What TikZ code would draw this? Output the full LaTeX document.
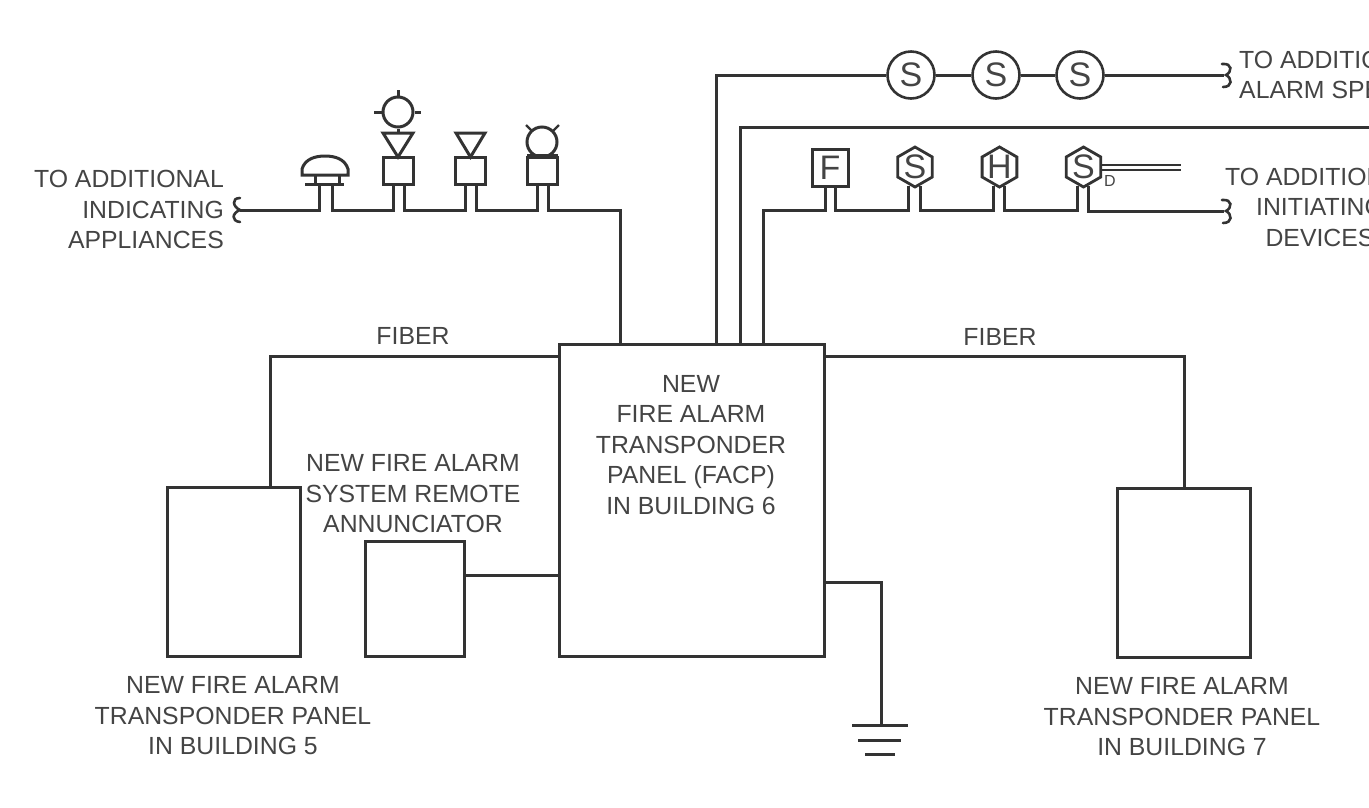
\documentclass[tikz,border=0pt]{standalone}
\usepackage{fontspec}
\setmainfont{Liberation Sans}
\usetikzlibrary{shapes.geometric}
\definecolor{ink}{HTML}{333333}
\definecolor{txt}{HTML}{444444}
\tikzset{
  wire/.style={draw=ink,line width=3pt,line join=miter},
  thin wire/.style={draw=ink,line width=2.6pt},
  box/.style={draw=ink,line width=3pt,rectangle,inner sep=0pt,fill=white},
  lbl/.style={text=txt,inner sep=0pt,align=center,font=\fontsize{24.8}{30.5}\selectfont},
  letter/.style={text=txt,inner sep=0pt,font=\fontsize{34}{34}\selectfont},
  speaker/.style={draw=ink,line width=2.6pt,circle,minimum size=47pt,inner sep=0pt,letter},
  hex/.style={draw=ink,line width=2.8pt,regular polygon,regular polygon sides=6,regular polygon rotate=30,minimum size=40pt,inner sep=0pt,letter},
  dev/.style={box,minimum width=30pt,minimum height=27pt},
}
\newcommand{\brk}[2]{\draw[thin wire,line cap=round] (#1-4,#2-11) .. controls (#1+7,#2-12) and (#1+6,#2-3) .. (#1,#2) .. controls (#1+6,#2+3) and (#1+7,#2+12) .. (#1-3,#2+12);}
\newcommand{\brkl}[2]{\draw[thin wire,line cap=round] (#1+1,#2-12) .. controls (#1-8,#2-12) and (#1-6,#2-3) .. (#1+1,#2) .. controls (#1-7,#2+3) and (#1-8,#2+11) .. (#1+1,#2+12);}
\begin{document}
\begin{tikzpicture}[x=1pt,y=-1pt]
\useasboundingbox (0,0) rectangle (1369,807);
\clip (0,0) rectangle (1369,807);
% panels
\node[box,minimum width=265pt,minimum height=312pt] (facp) at (691.5,500) {};
\node[box,minimum width=133pt,minimum height=169pt] (b5) at (233.5,571.5) {};
\node[box,minimum width=99pt,minimum height=115pt] (ann) at (414.5,598.5) {};
\node[box,minimum width=133pt,minimum height=169pt] (b7) at (1183.5,572.5) {};
% panel texts
\node[lbl] (t6) at (691,445) {NEW\\FIRE ALARM\\TRANSPONDER\\PANEL (FACP)\\IN BUILDING 6};
\node[lbl] (t5) at (233,716) {NEW FIRE ALARM\\TRANSPONDER PANEL\\IN BUILDING 5};
\node[lbl] (t7) at (1182,717) {NEW FIRE ALARM\\TRANSPONDER PANEL\\IN BUILDING 7};
\node[lbl] (ta) at (413,494) {NEW FIRE ALARM\\SYSTEM REMOTE\\ANNUNCIATOR};
\node[lbl] (f1) at (413,336) {FIBER};
\node[lbl] (f2) at (1000,337) {FIBER};
\node[lbl,align=right,anchor=east] (tl) at (224,209.5) {TO ADDITIONAL\\INDICATING\\APPLIANCES};
\node[lbl,align=left,anchor=west] (tr1) at (1239,75) {TO ADDITIONAL\\ALARM SPEAKERS};
\node[lbl] (tr2) at (1320,207) {TO ADDITIONAL\\INITIATING\\DEVICES};
% connections to the panels
\coordinate (fl) at (559,356);
\coordinate (fr) at (824,356);
\draw[wire] (fl) -| (b5.north -| 270,0);
\draw[wire] (fr) -| (b7.north -| 1184,0);
\draw[wire] (ann.east |- 0,575) -- (facp.west |- 0,575);
% ground
\coordinate (gs) at (824,582);
\coordinate (g1) at (881,725);
\draw[wire] (gs) -| (g1);
\draw[wire] (852,725) -- (908,725);
\draw[wire] (858,740) -- (901,740);
\draw[wire] (865,754) -- (895,754);
% speakers
\node[speaker] (s1) at (911,75) {S};
\node[speaker] (s2) at (996,75) {S};
\node[speaker] (s3) at (1080,75) {S};
\coordinate (p1) at (716,344);
\coordinate (b1) at (1224,75);
\draw[wire] (p1) |- (s1.west);
\draw[wire] (s1) -- (s2);
\draw[wire] (s2) -- (s3);
\draw[wire] (s3) -- (b1);
\brk{1226}{75}
% middle line
\coordinate (p2) at (740,344);
\coordinate (e2) at (1369,127);
\draw[wire] (p2) |- (e2);
% initiating devices
\node[box,minimum width=36pt,minimum height=37pt,letter] (F) at (830,167.5) {F};
\node[hex] (h1) at (915,167) {S};
\node[hex] (h2) at (999.5,167) {H};
\node[hex] (h3) at (1083.5,167) {S};
\node[text=txt,inner sep=0pt,font=\fontsize{16}{16}\selectfont] (dd) at (1110,181) {D};
\coordinate (p3) at (763,344);
\draw[wire] (p3) |- (825,210) -- (F.south -| 825,0);
\draw[wire] (F.south -| 835,0) -- (835,210) -- (908,210) -- (908,186);
\draw[wire] (920,186) -- (920,210) -- (993,210) -- (993,186);
\draw[wire] (1004,186) -- (1004,210) -- (1077,210) -- (1077,186);
\draw[wire] (1088,186) -- (1088,211) -- (1224,211);
\brk{1226}{211}
\draw[thin wire,line width=2pt] (1100,164.5) -- (1181,164.5);
\draw[thin wire,line width=2pt] (1102,170) -- (1181,170);
% indicating appliances
\draw[wire] (240,210) -- (319,210) -- (319,184);
\draw[wire] (332,184) -- (332,210) -- (393,210) -- (393,184);
\draw[wire] (404,184) -- (404,210) -- (465,210) -- (465,184);
\draw[wire] (476,184) -- (476,210) -- (537,210) -- (537,184);
\draw[wire] (548,184) -- (548,210) -- (620,210) -- (620,344);
\brkl{239}{210}
% bell
\draw[wire,fill=white] (302,175) -- (348,175) -- (348,169) .. controls (345,159) and (335,156) .. (325,156) .. controls (315,156) and (305,159) .. (302,169) -- cycle;
\draw[wire] (315,175) -- (315,184);
\draw[wire] (339,175) -- (339,184);
\draw[wire] (305,184.5) -- (344,184.5);
% devices 2-4
\node[dev] (d2) at (398,170.5) {};
\node[dev] (d3) at (470.5,170.5) {};
\node[dev] (d4) at (542.5,170.5) {};
\draw[wire] (383,133) -- (413,133) -- (398,157) -- cycle;
\draw[wire] (456,133) -- (485,133) -- (470.5,157) -- cycle;
\node[draw=ink,line width=3pt,circle,minimum size=30pt,inner sep=0pt] (c2) at (398,112) {};
\draw[wire] (c2.south) -- (398,133);
\draw[wire] (c2.north) -- (398,90);
\draw[wire] (c2.west) -- (374,112);
\draw[wire] (c2.east) -- (421,112);
\node[draw=ink,line width=3pt,circle,minimum size=30pt,inner sep=0pt] (c4) at (542,142) {};
\draw[wire,line width=2.4pt] (526,125) -- (532,131);
\draw[wire,line width=2.4pt] (559,125) -- (553,131);
\draw[wire,line width=3.5pt] (527,156) -- (558,156);
\end{tikzpicture}
\end{document}
